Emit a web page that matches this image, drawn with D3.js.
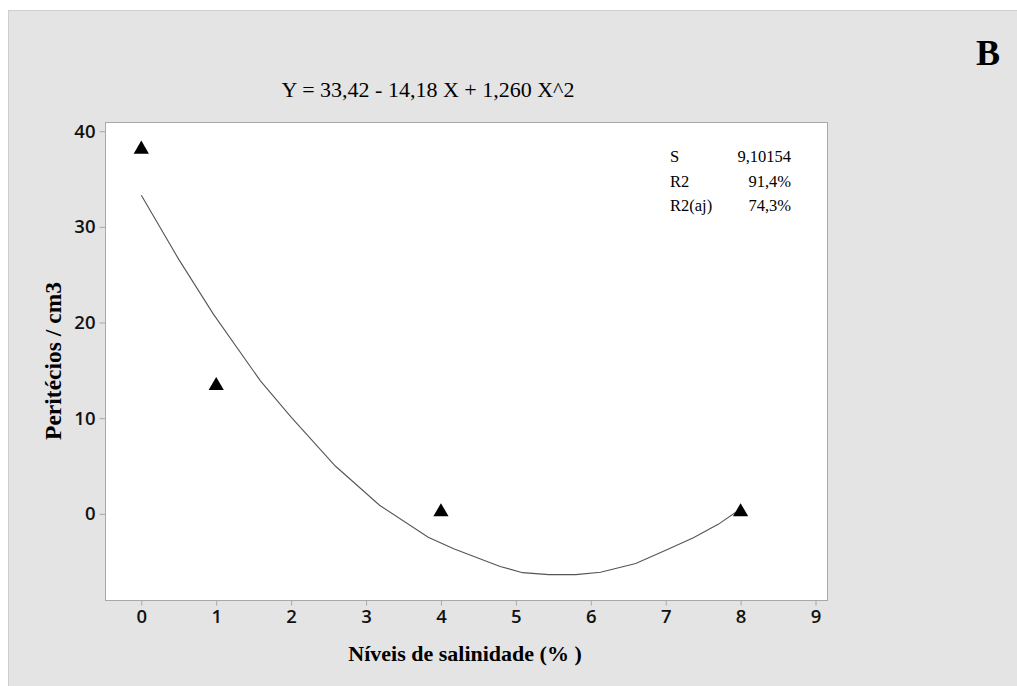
<!DOCTYPE html>
<html>
<head>
<meta charset="utf-8">
<script src="https://cdn.jsdelivr.net/npm/d3@7"></script>
<style>
  html, body { margin: 0; padding: 0; background: #fff; }
  svg { display: block; }
</style>
</head>
<body>
<div id="chart"></div>
<script>
// Données
const niveis = [0, 1, 4, 8];
const peritecios = [38.1, 13.4, 0.2, 0.2];

// Courbe ajustée (sommets)
const curveX = [0, 0.5, 0.96, 1.59, 2.0, 2.59, 3.18, 3.83, 4.17, 4.79, 5.09, 5.44, 5.8, 6.13, 6.6, 7.0, 7.37, 7.7, 8.0];
const curveY = [33.3, 26.6, 20.9, 13.9, 10.1, 5.0, 0.9, -2.45, -3.66, -5.5, -6.15, -6.35, -6.35, -6.1, -5.2, -3.8, -2.5, -1.1, 0.5];

const xTicks = [0, 1, 2, 3, 4, 5, 6, 7, 8, 9];
const yTicks = [0, 10, 20, 30, 40];

const equation = "Y = 33,42 - 14,18 X + 1,260 X^2";
const statLabels = ["S", "R2", "R2(aj)"];
const statValues = ["9,10154", "91,4%", "74,3%"];

const width = 1017;
const height = 686;
const plot = { left: 105.5, right: 827.5, top: 122.5, bottom: 600.5 };

const svg = d3.select("#chart")
  .append("svg")
  .attr("width", width)
  .attr("height", height);

// Fond gris
svg.append("rect")
  .attr("x", 8.5).attr("y", 10.5)
  .attr("width", width).attr("height", height)
  .attr("fill", "#e4e4e4")
  .attr("stroke", "#cfcfcf");

// Échelles
const x = d3.scaleLinear().domain([-0.478, 9.16]).range([plot.left, plot.right]);
const y = d3.scaleLinear().domain([-9.06, 40.91]).range([plot.bottom, plot.top]);

// Zone du graphique
svg.append("rect")
  .attr("x", plot.left).attr("y", plot.top)
  .attr("width", plot.right - plot.left)
  .attr("height", plot.bottom - plot.top)
  .attr("fill", "#fff")
  .attr("stroke", "#a8a8a8");

// Axes
const gx = svg.append("g")
  .attr("transform", `translate(0,${plot.bottom})`)
  .call(d3.axisBottom(x).tickValues(xTicks).tickSize(5).tickPadding(4));

const gy = svg.append("g")
  .attr("transform", `translate(${plot.left},0)`)
  .call(d3.axisLeft(y).tickValues(yTicks).tickSize(6).tickPadding(4));

[gx, gy].forEach((g) => {
  g.select(".domain").remove();
  g.selectAll(".tick line").attr("stroke", "#a8a8a8");
  g.selectAll("text")
    .style("font-family", "'Open Sans', sans-serif")
    .style("font-weight", "600")
    .style("font-size", "18.5px")
    .style("fill", "#111");
});

// Courbe ajustée
const pts = curveX.map((d, i) => [d, curveY[i]]);
svg.append("path")
  .datum(pts)
  .attr("fill", "none")
  .attr("stroke", "#555")
  .attr("stroke-width", 1.1)
  .attr("d", d3.line().x((d) => x(d[0])).y((d) => y(d[1])));

// Points (triangles)
svg.selectAll(".pt")
  .data(niveis)
  .enter()
  .append("path")
  .attr("class", "pt")
  .attr("transform", (d, i) => `translate(${x(d)},${y(peritecios[i])})`)
  .attr("d", d3.symbol().type(d3.symbolTriangle).size(100))
  .attr("fill", "#000");

// Textes
const serif = "'Liberation Serif', 'Times New Roman', serif";

svg.append("text")
  .attr("x", 428).attr("y", 97)
  .attr("text-anchor", "middle")
  .style("font-family", serif)
  .style("font-size", "22px")
  .text(equation);

svg.append("text")
  .attr("x", 1000).attr("y", 65)
  .attr("text-anchor", "end")
  .style("font-family", serif)
  .style("font-weight", "bold")
  .style("font-size", "36px")
  .text("B");

statLabels.forEach((lab, i) => {
  svg.append("text")
    .attr("x", 670).attr("y", 162 + i * 24.5)
    .style("font-family", serif)
    .style("font-size", "16.5px")
    .text(lab);
  svg.append("text")
    .attr("x", 791).attr("y", 162 + i * 24.5)
    .attr("text-anchor", "end")
    .style("font-family", serif)
    .style("font-size", "16.5px")
    .text(statValues[i]);
});

svg.append("text")
  .attr("x", 465).attr("y", 661)
  .attr("text-anchor", "middle")
  .style("font-family", serif)
  .style("font-weight", "bold")
  .style("font-size", "22px")
  .text("Níveis de salinidade (% )");

svg.append("text")
  .attr("transform", "translate(61,361) rotate(-90)")
  .attr("text-anchor", "middle")
  .style("font-family", serif)
  .style("font-weight", "bold")
  .style("font-size", "23.5px")
  .text("Peritécios / cm3");
</script>
</body>
</html>
